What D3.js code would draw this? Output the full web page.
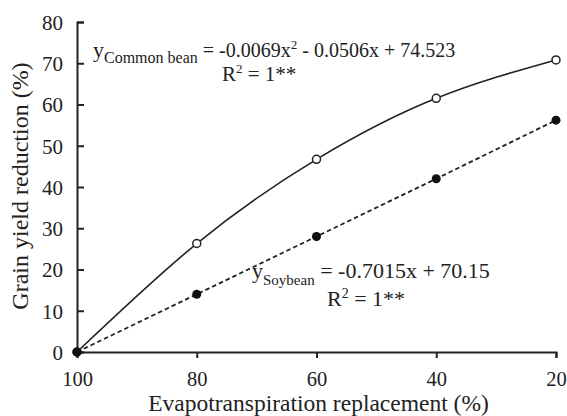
<!DOCTYPE html>
<html>
<head>
<meta charset="utf-8">
<script src="https://cdn.jsdelivr.net/npm/d3@7"></script>
<style>
  body { margin: 0; background: #fff; }
</style>
</head>
<body>
<div class="chart"></div>
<script>
// values
var etLevels = [100, 80, 60, 40, 20];
var commonBean = [0, 26.3, 46.7, 61.5, 70.8];
var soybean = [0, 14, 28, 42, 56.2];
var yTicks = [0, 10, 20, 30, 40, 50, 60, 70, 80];

const margin = {top: 22, right: 11, bottom: 64, left: 77};
const width = 567 - margin.left - margin.right,
    height = 416 - margin.top - margin.bottom;

const xScale = d3.scaleLinear()
    .domain([100, 20])
    .range([0, width]);

const yScale = d3.scaleLinear()
    .domain([0, 80])
    .range([height, 0]);

var root = d3.select(".chart")
    .append("svg")
    .attr("width", 567)
    .attr("height", 416);

var svg = root.append("g")
    .attr("transform", "translate(" + margin.left + "," + margin.top + ")");

const xAxis = d3.axisBottom(xScale)
    .tickValues(etLevels)
    .tickSizeInner(6)
    .tickSizeOuter(6);

const yAxis = d3.axisLeft(yScale)
    .tickValues(yTicks)
    .tickSizeInner(-7)
    .tickSizeOuter(-7)
    .tickPadding(14);

var xg = svg.append("g")
    .attr("transform", `translate(0, ${height})`)
    .call(xAxis);

var yg = svg.append("g").call(yAxis);

[xg, yg].forEach(g => {
    g.attr("font-family", null);
    g.select(".domain").attr("stroke", "#222").attr("stroke-width", 2);
    g.selectAll(".tick line").attr("stroke", "#222").attr("stroke-width", 2);
    g.selectAll(".tick text")
        .attr("font-size", 21)
        .attr("fill", "#222");
});
yg.selectAll(".tick text").attr("dy", "0.35em");
xg.selectAll(".tick text").attr("y", 34).attr("dy", 0).attr("font-size", 20.5);

svg.append("text")
    .text("Evapotranspiration replacement (%)")
    .attr("x", width / 2 + 2)
    .attr("y", height + 59)
    .attr("text-anchor", "middle")
    .attr("font-size", 23.5);

svg.append("text")
    .text("Grain yield reduction (%)")
    .attr("transform", "translate(" + (28 - margin.left) + "," + (186 - margin.top) + ") rotate(-90)")
    .attr("text-anchor", "middle")
    .attr("font-size", 24);

var beanPts = etLevels.map((d, i) => [d, commonBean[i]]);
var soyPts = etLevels.map((d, i) => [d, soybean[i]]);

var line = d3.line()
    .x(d => xScale(d[0]))
    .y(d => yScale(d[1]));

svg.append("path")
    .datum(soyPts)
    .attr("fill", "none")
    .attr("stroke", "#222")
    .attr("stroke-width", 1.8)
    .attr("stroke-dasharray", "4.5,3")
    .attr("d", line);

svg.append("path")
    .datum(beanPts)
    .attr("fill", "none")
    .attr("stroke", "#222")
    .attr("stroke-width", 1.6)
    .attr("d", line.curve(d3.curveNatural));

svg.selectAll("circle.bean")
    .data(beanPts)
    .enter()
    .append("circle")
    .attr("class", "bean")
    .attr("cx", d => xScale(d[0]))
    .attr("cy", d => yScale(d[1]))
    .attr("r", 4)
    .attr("fill", "#fff")
    .attr("stroke", "#222")
    .attr("stroke-width", 1.5);

svg.selectAll("circle.soy")
    .data(soyPts)
    .enter()
    .append("circle")
    .attr("class", "soy")
    .attr("cx", d => xScale(d[0]))
    .attr("cy", d => yScale(d[1]))
    .attr("r", 4.5)
    .attr("fill", "#111");

// regression equations
var eq1 = root.append("text")
    .attr("x", 93)
    .attr("y", 57)
    .attr("font-size", 22);
eq1.append("tspan").text("y");
eq1.append("tspan").text("Common bean").attr("font-size", 16).attr("dy", 6);
eq1.append("tspan").text(" = -0.0069x").attr("dy", -6).attr("font-size", 20);
eq1.append("tspan").text("2").attr("font-size", 13).attr("dy", -8);
eq1.append("tspan").text(" - 0.0506x + 74.523").attr("dy", 8).attr("font-size", 20);

var r1 = root.append("text")
    .attr("x", 222)
    .attr("y", 81)
    .attr("font-size", 21);
r1.append("tspan").text("R");
r1.append("tspan").text("2").attr("font-size", 13).attr("dy", -8);
r1.append("tspan").text(" = 1**").attr("dy", 8);

var eq2 = root.append("text")
    .attr("x", 252)
    .attr("y", 278)
    .attr("font-size", 22);
eq2.append("tspan").text("y");
eq2.append("tspan").text("Soybean").attr("font-size", 15).attr("dy", 7);
eq2.append("tspan").text(" = -0.7015x + 70.15").attr("dy", -7);

var r2 = root.append("text")
    .attr("x", 327)
    .attr("y", 306)
    .attr("font-size", 22);
r2.append("tspan").text("R");
r2.append("tspan").text("2").attr("font-size", 14).attr("dy", -8);
r2.append("tspan").text(" = 1**").attr("dy", 8);

root.selectAll("text")
    .style("font-family", "'Liberation Serif', 'Times New Roman', serif")
    .style("fill", "#222");
</script>
</body>
</html>
